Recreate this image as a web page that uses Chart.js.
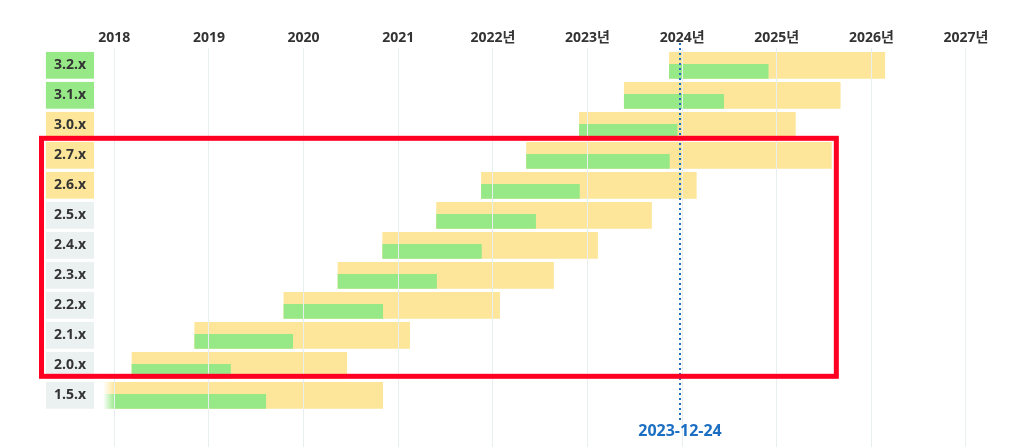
<!DOCTYPE html>
<html lang="ko">
<head>
  <meta charset="UTF-8" />
  <title>버전별 지원 기간</title>
  <style>
    html, body { margin: 0; padding: 0; background: #fff; }
    canvas { display: block; }
  </style>
</head>
<body>
  <canvas id="chart" width="1023" height="447"></canvas>

  <script src="https://cdn.jsdelivr.net/npm/chart.js"></script>
  <script>
    const versions = ["3.2.x", "3.1.x", "3.0.x", "2.7.x", "2.6.x", "2.5.x", "2.4.x", "2.3.x", "2.2.x", "2.1.x", "2.0.x", "1.5.x"];
    const releaseDates = ["2023-11-13", "2023-05-23", "2022-12-01", "2022-05-11", "2021-11-18", "2021-05-29", "2020-11-02", "2020-05-13", "2019-10-17", "2018-11-07", "2018-03-10", "2017-06-01"];
    const activeUntil = ["2024-11-29", "2024-06-10", "2023-12-13", "2023-11-13", "2022-12-01", "2022-06-15", "2021-11-18", "2021-05-29", "2020-11-02", "2019-11-20", "2019-03-25", "2019-08-08"];
    const supportUntil = ["2026-02-22", "2025-09-03", "2025-03-14", "2025-07-31", "2024-02-25", "2023-09-05", "2023-02-09", "2022-08-23", "2022-01-27", "2021-02-14", "2020-06-16", "2020-11-02"];
    const yearTicks = [2018, 2019, 2020, 2021, 2022, 2023, 2024, 2025, 2026, 2027];
    const yearLabels = ["2018", "2019", "2020", "2021", "2022년", "2023년", "2024년", "2025년", "2026년", "2027년"];
    const today = "2023-12-24";
    // highlighted rows
    const highlight = { from: "2.7.x", to: "2.0.x", until: "2025-08-19" };

    const FONT = "'Open Sans', 'Noto Sans CJK KR', sans-serif";
    const GREEN = "#97e987";
    const YELLOW = "#fde699";
    const GREY = "#ebf0f0";

    function toYear(s) {
      const d = new Date(s + "T00:00:00Z");
      const y = d.getUTCFullYear();
      const start = Date.UTC(y, 0, 1), end = Date.UTC(y + 1, 0, 1);
      return y + (d.getTime() - start) / (end - start);
    }

    const now = toYear(today);

    function labelColor(i) {
      if (toYear(activeUntil[i]) > now) return GREEN;
      if (toYear(supportUntil[i]) > now) return YELLOW;
      return GREY;
    }

    const yMin = -0.577, yMax = 12.723;
    const greenShift = 0.2;

    const fadeLeft = {
      id: "fadeLeft",
      afterDatasetsDraw(chart) {
        const { ctx, chartArea } = chart;
        const g = ctx.createLinearGradient(chartArea.left, 0, chartArea.left + 12, 0);
        g.addColorStop(0, "rgba(255,255,255,1)");
        g.addColorStop(1, "rgba(255,255,255,0)");
        ctx.save();
        ctx.fillStyle = g;
        ctx.fillRect(chartArea.left, chartArea.top, 12, chartArea.bottom - chartArea.top);
        ctx.restore();
      }
    };

    const todayLine = {
      id: "todayLine",
      afterDraw(chart) {
        const { ctx, chartArea } = chart;
        const x = chart.scales.x.getPixelForValue(now);
        ctx.save();
        ctx.strokeStyle = "#1b6ec2";
        ctx.lineWidth = 2;
        ctx.setLineDash([2, 3]);
        ctx.beginPath();
        ctx.moveTo(x, chartArea.top - 5);
        ctx.lineTo(x, chartArea.bottom - 25);
        ctx.stroke();
        ctx.setLineDash([]);
        ctx.fillStyle = "#1b6ec2";
        ctx.font = "bold 16px " + FONT;
        ctx.textAlign = "center";
        ctx.textBaseline = "alphabetic";
        ctx.fillText(today, x, chartArea.bottom - 11.5);

        // red highlight box
        const y = chart.scales.y;
        const top = y.getPixelForValue(versions.indexOf(highlight.from) - 0.5) - 2;
        const bottom = y.getPixelForValue(versions.indexOf(highlight.to) + 0.5) - 4;
        const right = chart.scales.x.getPixelForValue(toYear(highlight.until));
        const left = 41.5;
        ctx.strokeStyle = "#ff0022";
        ctx.lineWidth = 5;
        ctx.strokeRect(left, top, right - left, bottom - top);
        ctx.restore();
      }
    };

    new Chart(document.getElementById("chart"), {
      type: "bar",
      data: {
        datasets: [
          {
            label: "active",
            data: versions.map((v, i) => ({ y: i, x: [toYear(releaseDates[i]), toYear(activeUntil[i])] })),
            backgroundColor: GREEN,
            barThickness: 14,
            grouped: false,
            yAxisID: "y2",
            order: 0
          },
          {
            label: "support",
            data: versions.map((v, i) => ({ y: i, x: [toYear(releaseDates[i]), toYear(supportUntil[i])] })),
            backgroundColor: YELLOW,
            barThickness: 26,
            grouped: false,
            yAxisID: "y",
            order: 1
          }
        ]
      },
      options: {
        indexAxis: "y",
        responsive: false,
        animation: false,
        layout: { padding: { top: 0, right: 28, bottom: 0, left: 0 } },
        plugins: {
          legend: { display: false },
          tooltip: { enabled: false }
        },
        scales: {
          x: {
            type: "linear",
            position: "top",
            min: 2017.88,
            max: 2027.307,
            afterBuildTicks: s => { s.ticks = yearTicks.map(v => ({ value: v })); },
            afterFit: s => { s.height = 48; s.paddingLeft = 0; s.paddingRight = 0; },
            ticks: {
              callback: v => yearLabels[yearTicks.indexOf(v)],
              color: "#333",
              font: { family: FONT, size: 14, weight: "bold" },
              padding: 2,
              autoSkip: false,
              maxRotation: 0
            },
            grid: { color: "#e9eef0", drawTicks: false, z: 1 },
            border: { display: false }
          },
          y: {
            type: "linear",
            reverse: true,
            offset: false,
            min: yMin,
            max: yMax,
            afterBuildTicks: s => { s.ticks = versions.map((v, i) => ({ value: i })); },
            afterFit: s => { s.width = 103; s.paddingTop = 0; s.paddingBottom = 0; },
            ticks: {
              callback: v => versions[v],
              color: "#333",
              font: { family: FONT, size: 14, weight: "bold" },
              padding: 17,
              autoSkip: false,
              showLabelBackdrop: true,
              backdropColor: ctx => labelColor(ctx.index),
              backdropPadding: { top: 5, bottom: 5, left: 8, right: 8 }
            },
            grid: { display: false, drawTicks: false },
            border: { display: false }
          },
          y2: {
            type: "linear",
            display: false,
            reverse: true,
            offset: false,
            min: yMin - greenShift,
            max: yMax - greenShift
          }
        }
      },
      plugins: [fadeLeft, todayLine]
    });
  </script>
</body>
</html>
